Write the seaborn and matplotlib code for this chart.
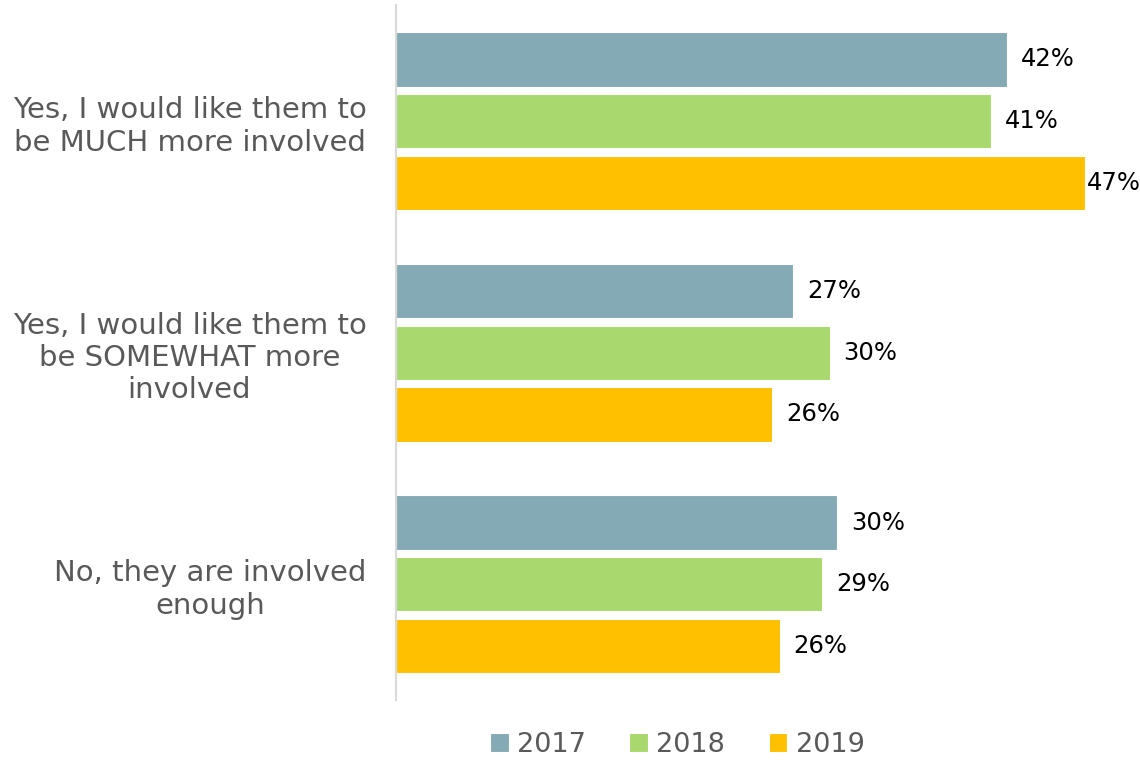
import pandas as pd
import matplotlib
matplotlib.use("Agg")
import matplotlib.pyplot as plt
import seaborn as sns

# chart data
categories = ["Yes, I would like them to\nbe MUCH more involved",
              "Yes, I would like them to\nbe SOMEWHAT more\ninvolved",
              "No, they are involved\nenough"]
years = ["2017", "2018", "2019"]
vals_2017 = [41.7, 27.1, 30.1]
vals_2018 = [40.6, 29.6, 29.1]
vals_2019 = [47.0, 25.7, 26.2]
colors = ["#84ABB5", "#A9D86E", "#FFC000"]

rows = []
for yr, vals in zip(years, [vals_2017, vals_2018, vals_2019]):
    for cat, v in zip(categories, vals):
        rows.append({"cat": cat, "year": yr, "val": v})
df = pd.DataFrame(rows)

sns.set_style("white")
plt.rcParams["font.family"] = ["DejaVu Sans"]

fig = plt.figure(figsize=(11.4, 7.61), dpi=100)
ax = fig.add_axes([0.347, 0.080, 0.643, 0.913])

sns.barplot(data=df, y="cat", x="val", hue="year", orient="h",
            palette=colors, width=0.8, gap=0.12, saturation=1,
            edgecolor="white", linewidth=0.8, ax=ax)

ax.set_xlim(0, 50)
ax.set_ylim(2.5, -0.5)
ax.set_xlabel("")
ax.set_ylabel("")
ax.set_xticks([])

# data labels (the longest bar gets its label squeezed next to the bar end)
for cont in ax.containers:
    for bar, v in zip(cont, cont.datavalues):
        pad = 2 if v > 45 else 14
        ax.annotate(f"{round(v):.0f}%", (bar.get_width(), bar.get_y() + bar.get_height() / 2),
                    xytext=(pad * 0.72, 0), textcoords="offset points",
                    ha="left", va="center", fontsize=17.5, color="black")

ax.tick_params(axis="y", length=0, pad=21, labelsize=21, labelcolor="#595959")
for lab in ax.get_yticklabels():
    lab.set_multialignment("center")
    lab.set_linespacing(1.2)

for side in ["top", "right", "bottom"]:
    ax.spines[side].set_visible(False)
ax.spines["left"].set_color("#D9D9D9")
ax.spines["left"].set_linewidth(1.5)

handles, labels = ax.get_legend_handles_labels()
ax.legend_.remove()
leg = fig.legend(handles, labels, loc="lower center", bbox_to_anchor=(0.594, -0.028),
                 ncol=3, frameon=False, fontsize=19.5, handlelength=0.7,
                 handleheight=0.7, handletextpad=0.3, columnspacing=1.6)
for t in leg.get_texts():
    t.set_color("#595959")

fig.savefig("out.png", dpi=100)
